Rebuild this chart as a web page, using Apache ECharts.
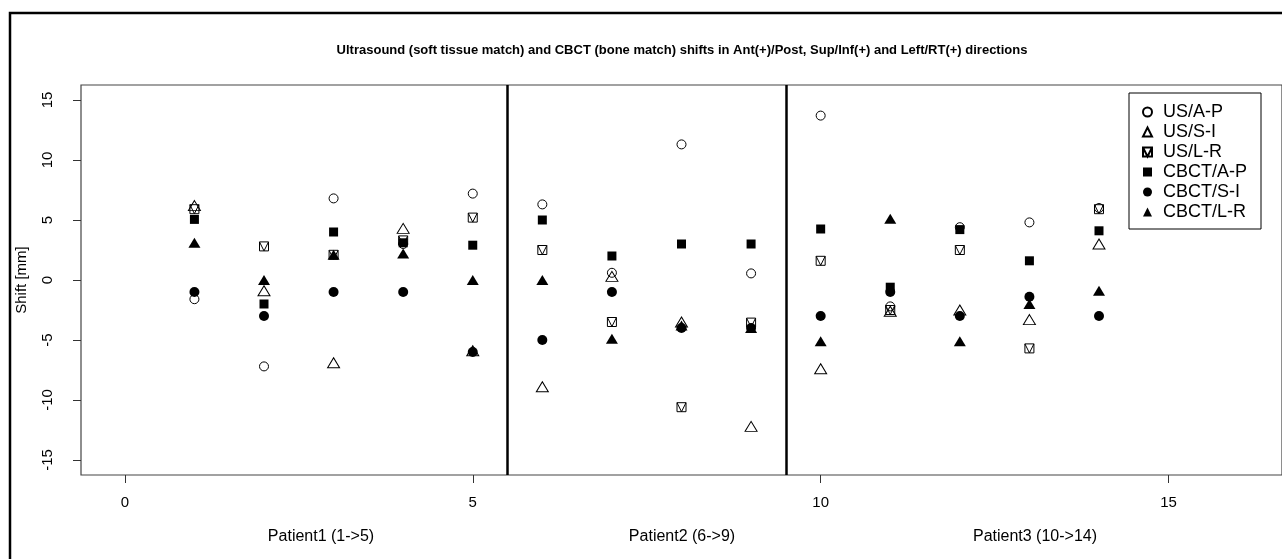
<!DOCTYPE html>
<html>
<head>
<meta charset="utf-8">
<title>US vs CBCT shifts</title>
<script src="https://cdn.jsdelivr.net/npm/echarts@6/dist/echarts.min.js"></script>
<style>
  html, body { margin: 0; padding: 0; background: #fff; }
  #main { width: 1282px; height: 559px; }
</style>
</head>
<body>
<div id="main"></div>
<script>
// fraction number (x) of each measurement
var fractions = [1, 2, 3, 4, 5, 6, 7, 8, 9, 10, 11, 12, 13, 14];

// shifts in mm
var usAP = [-1.6, -7.2, 6.8, 3.0, 7.2, 6.3, 0.6, 11.3, 0.55, 13.7, -2.2, 4.4, 4.8, 6.0];
var usSI = [6.2, -0.9, -6.9, 4.3, -5.9, -8.9, 0.3, -3.5, -12.2, -7.4, -2.6, -2.5, -3.3, 3.0];
var usLR = [5.9, 2.8, 2.1, 3.3, 5.2, 2.5, -3.5, -10.6, -3.55, 1.6, -2.5, 2.5, -5.7, 5.9];
var cbctAP = [5.05, -2, 4, 3.1, 2.9, 5, 2, 3, 3, 4.25, -0.6, 4.2, 1.6, 4.1];
var cbctSI = [-1, -3, -1, -1, -6, -5, -1, -4, -4, -3, -1, -3, -1.4, -3];
var cbctLR = [3.1, 0, 2.1, 2.2, 0, 0, -4.9, -3.8, -4, -5.1, 5.1, -5.1, -2, -0.9];

var xTicks = [0, 5, 10, 15];
var yTicks = [-15, -10, -5, 0, 5, 10, 15];
var patientBreaks = [5.5, 9.5];
var patientLabels = ['Patient1 (1->5)', 'Patient2 (6->9)', 'Patient3 (10->14)'];

var FONT = '"Liberation Sans", Arial, sans-serif';
// square with a V inside (R pch 14)
var boxV = 'path://M0,0L10,0L10,10L0,10ZM0,0L5,10L10,0';

function pairs(ys) {
  return fractions.map(function (x, i) { return [x, ys[i]]; });
}

function mk(name, ys, symbol, size, open) {
  return {
    name: name,
    type: 'scatter',
    data: pairs(ys),
    symbol: symbol,
    symbolSize: size,
    itemStyle: open
      ? { color: 'rgba(0,0,0,0)', borderColor: '#000', borderWidth: 1, opacity: 1 }
      : { color: '#000', opacity: 1 },
    emphasis: { disabled: true }
  };
}

var chart = echarts.init(document.getElementById('main'));

var series = [
  mk('US/A-P', usAP, 'circle', 9, true),
  mk('US/S-I', usSI, 'triangle', [12, 10], true),
  mk('US/L-R', usLR, boxV, 9, true),
  mk('CBCT/A-P', cbctAP, 'rect', 9, false),
  mk('CBCT/S-I', cbctSI, 'circle', 10, false),
  mk('CBCT/L-R', cbctLR, 'triangle', [12, 10], false)
];

// patient separators
series[0].markLine = {
  silent: true,
  symbol: 'none',
  label: { show: false },
  lineStyle: { color: '#000', width: 2.5, type: 'solid', opacity: 1 },
  data: patientBreaks.map(function (v) { return { xAxis: v }; })
};

var option = {
  backgroundColor: '#fff',
  animation: false,
  textStyle: { fontFamily: FONT, color: '#000' },
  grid: {
    left: 81, top: 85, width: 1201, height: 390,
    show: true, borderColor: '#444', borderWidth: 1.2,
    backgroundColor: 'transparent'
  },
  xAxis: {
    type: 'value',
    min: -0.63,
    max: 16.63,
    splitLine: { show: false },
    axisLine: { show: false, onZero: false },
    axisTick: { show: true, length: 8, lineStyle: { color: '#333' }, customValues: xTicks },
    axisLabel: { customValues: xTicks, fontSize: 15, margin: 20, color: '#000', fontFamily: FONT }
  },
  yAxis: {
    type: 'value',
    min: -16.25,
    max: 16.25,
    name: 'Shift [mm]',
    nameLocation: 'middle',
    nameGap: 52,
    nameTextStyle: { fontSize: 15, color: '#000', fontFamily: FONT },
    splitLine: { show: false },
    axisLine: { show: false, onZero: false },
    axisTick: { show: true, length: 8, lineStyle: { color: '#333' }, customValues: yTicks },
    axisLabel: { customValues: yTicks, rotate: 90, fontSize: 15, margin: 26, color: '#000', fontFamily: FONT }
  },
  legend: {
    orient: 'vertical',
    left: 1129,
    top: 93,
    padding: [9, 14, 7, 13],
    itemGap: 0,
    itemWidth: 9,
    itemHeight: 9,
    borderColor: '#000',
    borderWidth: 1,
    backgroundColor: '#fff',
    selectedMode: false,
    textStyle: { fontSize: 18, lineHeight: 20, padding: [0, 0, 0, 6], color: '#000', fontFamily: FONT },
    data: series.map(function (s) { return s.name; })
  },
  graphic: [
    {
      type: 'rect',
      shape: { x: 10, y: 13, width: 1400, height: 700 },
      style: { fill: 'none', stroke: '#000', lineWidth: 2.5 },
      silent: true
    },
    {
      type: 'text',
      x: 682, y: 50,
      style: {
        text: 'Ultrasound (soft tissue match) and CBCT (bone match) shifts in Ant(+)/Post, Sup/Inf(+) and Left/RT(+) directions',
        font: 'bold 13px ' + FONT, fill: '#000', align: 'center', verticalAlign: 'middle'
      }
    },
    { type: 'text', x: 321, y: 537, style: { text: patientLabels[0], font: '16px ' + FONT, fill: '#000', align: 'center', verticalAlign: 'middle' } },
    { type: 'text', x: 682, y: 537, style: { text: patientLabels[1], font: '16px ' + FONT, fill: '#000', align: 'center', verticalAlign: 'middle' } },
    { type: 'text', x: 1035, y: 537, style: { text: patientLabels[2], font: '16px ' + FONT, fill: '#000', align: 'center', verticalAlign: 'middle' } }
  ],
  series: series
};

chart.setOption(option);
</script>
</body>
</html>
